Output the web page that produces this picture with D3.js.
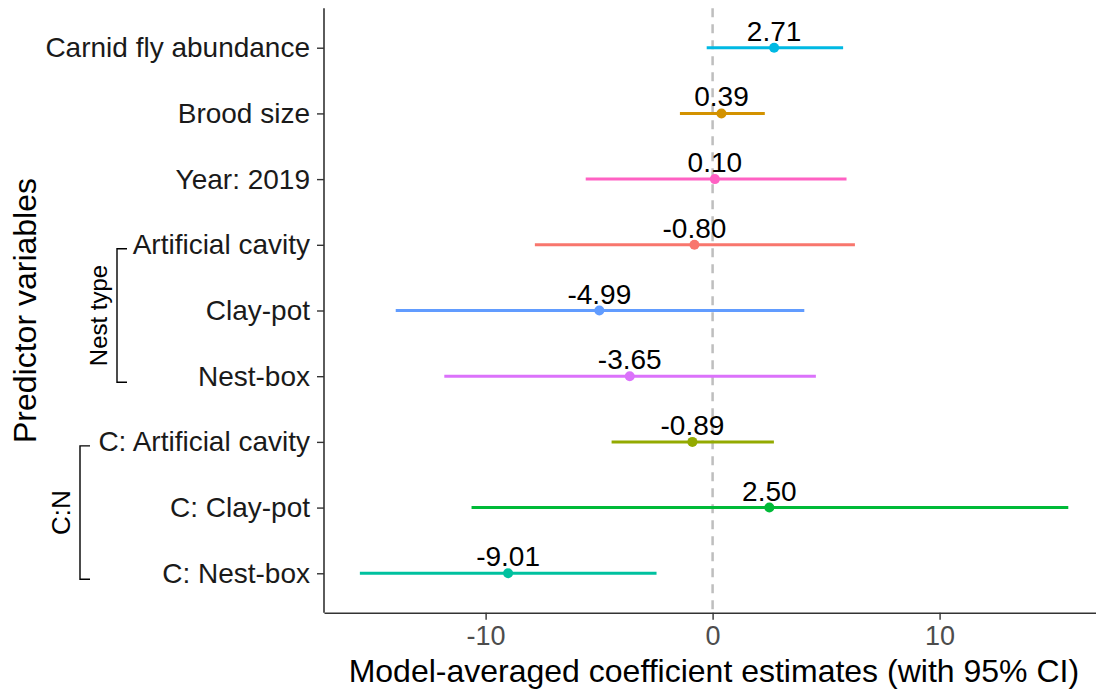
<!DOCTYPE html>
<html>
<head>
<meta charset="utf-8">
<script src="https://cdn.jsdelivr.net/npm/d3@7"></script>
<style>
  html, body { margin: 0; padding: 0; background: #fff; }
  svg { display: block; font-family: "Liberation Sans", Arial, sans-serif; }
</style>
</head>
<body>
<svg id="chart" width="1096" height="695"></svg>
<script>
// Predictors, top to bottom
const predictors = [
  "Carnid fly abundance", "Brood size", "Year: 2019",
  "Artificial cavity", "Clay-pot", "Nest-box",
  "C: Artificial cavity", "C: Clay-pot", "C: Nest-box"
];
// Model-averaged estimates and 95% confidence limits
const estimates = [2.71, 0.39, 0.10, -0.80, -4.99, -3.65, -0.89, 2.50, -9.01];
const ciLower   = [-0.26, -1.44, -5.59, -7.83, -13.96, -11.82, -4.45, -10.62, -15.54];
const ciUpper   = [5.75, 2.30, 5.90, 6.27, 4.04, 4.55, 2.70, 15.67, -2.47];
const colors = ["#00B9E3", "#D39200", "#FF61C3", "#F8766D", "#619CFF",
                "#DB72FB", "#93AA00", "#00BA38", "#00C19F"];
const xTicks = [-10, 0, 10];
const xTickLabels = ["-10", "0", "10"];
// Grouping brackets drawn left of the tick labels
const groups = [
  { label: "Nest type", first: "Artificial cavity", last: "Nest-box" },
  { label: "C:N", first: "C: Artificial cavity", last: "C: Nest-box" }
];

const svg = d3.select("#chart");
const panel = { left: 324, right: 1103.7, top: 8.3, bottom: 612.7 };

const x = d3.scaleLinear().domain([-17.12, 17.23]).range([panel.left, panel.right]);
const y = d3.scalePoint().domain(predictors).range([panel.top, panel.bottom]).padding(0.6);

const rows = predictors.map((p, i) => ({
  name: p, est: estimates[i], lo: ciLower[i], hi: ciUpper[i], color: colors[i]
}));

// zero reference line
svg.append("line")
  .attr("x1", x(0)).attr("x2", x(0))
  .attr("y1", panel.top).attr("y2", panel.bottom)
  .attr("stroke", "#BEBEBE").attr("stroke-width", 2.5)
  .attr("stroke-dasharray", "9,7");

// confidence intervals
svg.append("g").selectAll("line").data(rows).join("line")
  .attr("x1", d => x(d.lo)).attr("x2", d => x(d.hi))
  .attr("y1", d => y(d.name)).attr("y2", d => y(d.name))
  .attr("stroke", d => d.color).attr("stroke-width", 3);

// point estimates
svg.append("g").selectAll("circle").data(rows).join("circle")
  .attr("cx", d => x(d.est)).attr("cy", d => y(d.name)).attr("r", 5)
  .attr("fill", d => d.color);

// estimate labels
svg.append("g").selectAll("text").data(rows).join("text")
  .attr("x", d => x(d.est)).attr("y", d => y(d.name) - 7)
  .attr("text-anchor", "middle")
  .attr("font-size", 28).attr("fill", "#000")
  .text(d => d.est.toFixed(2));

// x axis
const xAxis = svg.append("g")
  .attr("transform", `translate(0,${panel.bottom})`)
  .call(d3.axisBottom(x).tickValues(xTicks).tickSize(7).tickSizeOuter(0).tickPadding(6)
    .tickFormat((d, i) => xTickLabels[i]));
xAxis.select(".domain").attr("stroke", "#333").attr("stroke-width", 1.6);
xAxis.selectAll(".tick line").attr("stroke", "#333").attr("stroke-width", 1.4);
xAxis.selectAll(".tick text").attr("font-size", 27).attr("fill", "#4D4D4D")
  .attr("font-family", "Liberation Sans, Arial, sans-serif");

// y axis
const yAxis = svg.append("g")
  .attr("transform", `translate(${panel.left},0)`)
  .call(d3.axisLeft(y).tickSize(7).tickSizeOuter(0).tickPadding(7));
yAxis.select(".domain").attr("stroke", "#333").attr("stroke-width", 1.6)
  .attr("d", `M0,${panel.top}V${panel.bottom}`);
yAxis.selectAll(".tick line").attr("stroke", "#333").attr("stroke-width", 1.4);
yAxis.selectAll(".tick text").attr("font-size", 28).attr("fill", "#1A1A1A")
  .attr("font-family", "Liberation Sans, Arial, sans-serif");

// axis titles
svg.append("text")
  .attr("x", (panel.left + panel.right) / 2).attr("y", 682)
  .attr("text-anchor", "middle").attr("font-size", 32).attr("fill", "#000")
  .text("Model-averaged coefficient estimates (with 95% CI)");

svg.append("text")
  .attr("transform", `translate(36,${(panel.top + panel.bottom) / 2}) rotate(-90)`)
  .attr("text-anchor", "middle").attr("font-size", 32).attr("fill", "#000")
  .text("Predictor variables");

// group brackets
const bracketPos = [
  { xLine: 117, textX: 107, size: 24 },
  { xLine: 80, textX: 70, size: 26 }
];
groups.forEach((g, i) => {
  const top = y(g.first) + 4;
  const bottom = y(g.last) + 6;
  const xl = bracketPos[i].xLine;
  svg.append("path")
    .attr("d", `M${xl + 10},${top}H${xl}V${bottom}H${xl + 10}`)
    .attr("fill", "none").attr("stroke", "#000").attr("stroke-width", 1.4);
  svg.append("text")
    .attr("transform", `translate(${bracketPos[i].textX},${(top + bottom) / 2}) rotate(-90)`)
    .attr("text-anchor", "middle").attr("font-size", bracketPos[i].size).attr("fill", "#000")
    .text(g.label);
});
</script>
</body>
</html>
